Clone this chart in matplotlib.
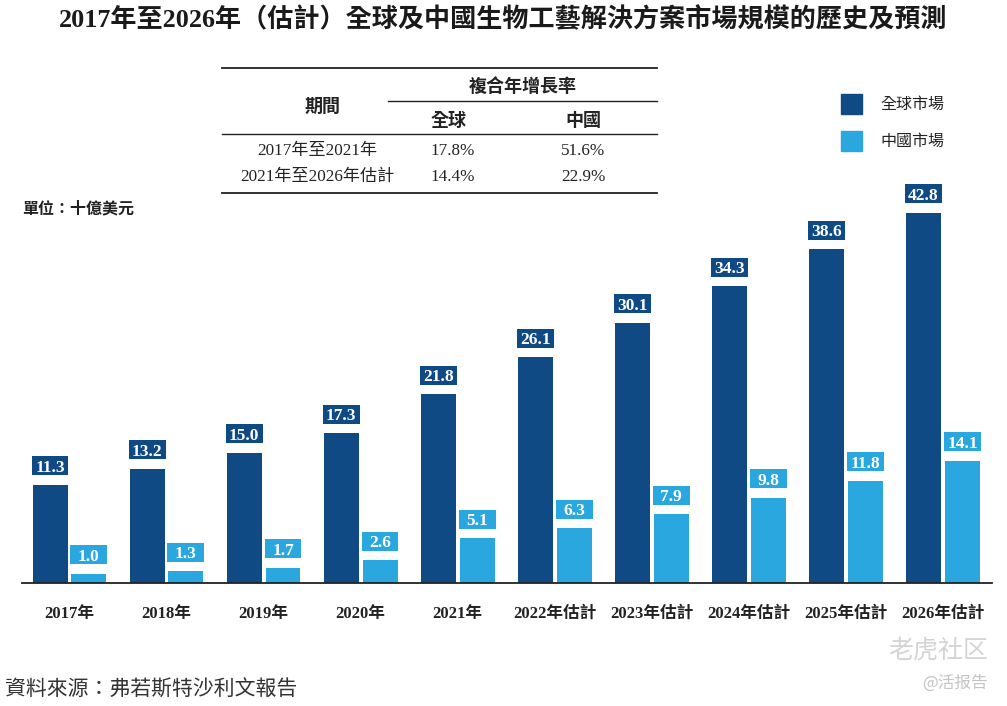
import matplotlib
matplotlib.use("Agg")
import matplotlib.pyplot as plt
import numpy as np

# === datos ===
years = ["2017年", "2018年", "2019年", "2020年", "2021年",
         "2022年估計", "2023年估計", "2024年估計", "2025年估計", "2026年估計"]
global_market = [11.3, 13.2, 15.0, 17.3, 21.8, 26.1, 30.1, 34.3, 38.6, 42.8]
china_market = [1.0, 1.3, 1.7, 2.6, 5.1, 6.3, 7.9, 9.8, 11.8, 14.1]

cagr_periods = ["2017年至2021年", "2021年至2026年估計"]
cagr_global = ["17.8%", "14.4%"]
cagr_china = ["51.6%", "22.9%"]

title = "2017年至2026年（估計）全球及中國生物工藝解決方案市場規模的歷史及預測"
legend_labels = ["全球市場", "中國市場"]
unit_text = "單位：十億美元"
source_text = "資料來源：弗若斯特沙利文報告"

DARK = "#104a84"
LIGHT = "#2aa7df"
TXT = "#222222"
SERIF = ["Liberation Serif", "Noto Sans CJK TC"]
SANS = ["Noto Sans CJK TC", "DejaVu Sans"]

# === figura ===
fig = plt.figure(figsize=(10.07, 7.06), dpi=100)
ax = fig.add_axes([22 / 1007, (706 - 582.5) / 706, 970 / 1007, 382.5 / 706])

x = np.arange(len(years))
w = 0.36
off = 0.2
ax.bar(x - off, global_market, width=w, color=DARK)
ax.bar(x + off, china_market, width=w, color=LIGHT)

ymax = 44.3
ax.set_ylim(0, ymax)
ax.set_xlim(-0.489, 9.505)

# cajas de etiquetas (alto y separacion fijos en pixeles)
px = ymax / 382.5
box_h = 19 * px
gap = 9.5 * px
for xs, vals, col in [(x - off, global_market, DARK), (x + off, china_market, LIGHT)]:
    for xi, v in zip(xs, vals):
        ax.bar(xi, box_h, bottom=v + gap, width=w + 0.02, color=col, clip_on=False)
        ax.text(xi, v + gap + box_h / 2, f"{v:.1f}", ha="center", va="center_baseline",
                color="white", fontsize=12.5, fontweight="bold", family=SERIF, clip_on=False)

for s in ["top", "left", "right"]:
    ax.spines[s].set_visible(False)
ax.spines["bottom"].set_linewidth(1.3)
ax.spines["bottom"].set_color(TXT)
ax.set_yticks([])
ax.set_xticks(x)
ax.set_xticklabels(years, fontsize=12, fontweight="bold", family=SERIF, color=TXT)
ax.tick_params(axis="x", length=0, pad=17)

# === titulo ===
fig.text(0.5, 1 - 19 / 706, title, ha="center", va="center", fontsize=18.8,
         fontweight="bold", family=SERIF, color="#1a1a1a")

# === leyenda ===
for i, (lab, col) in enumerate(zip(legend_labels, [DARK, LIGHT])):
    yc = 104 + i * 37
    fig.patches.append(plt.Rectangle((841 / 1007, 1 - (yc + 10) / 706), 21 / 1007, 20 / 706,
                                     transform=fig.transFigure, color=col))
    fig.text(880 / 1007, 1 - yc / 706, lab, ha="left", va="center", fontsize=11.5,
             family=SANS, color=TXT)

# === tabla CAGR ===
def fy(p):
    return 1 - p / 706

def fx(p):
    return p / 1007

for (x0, x1, yy, lw) in [(222, 657, 68, 1.3), (388, 657, 101, 1.0),
                         (222, 657, 134, 1.0), (222, 657, 193, 1.3)]:
    fig.add_artist(plt.Line2D([fx(x0), fx(x1)], [fy(yy), fy(yy)], color=TXT, lw=lw))

fig.text(fx(323), fy(106), "期間", ha="center", va="center", fontsize=13,
         fontweight="bold", family=SANS, color=TXT)
fig.text(fx(523), fy(87), "複合年增長率", ha="center", va="center", fontsize=13,
         fontweight="bold", family=SANS, color=TXT)
fig.text(fx(449), fy(120), "全球", ha="center", va="center", fontsize=13,
         fontweight="bold", family=SANS, color=TXT)
fig.text(fx(583), fy(120), "中國", ha="center", va="center", fontsize=13,
         fontweight="bold", family=SANS, color=TXT)
for i, per in enumerate(cagr_periods):
    yy = 151 + i * 26
    fig.text(fx(317), fy(yy), per, ha="center", va="center", fontsize=12.3,
             family=SERIF, color=TXT)
    fig.text(fx(453), fy(yy), cagr_global[i], ha="center", va="center", fontsize=12.3,
             family=SERIF, color=TXT)
    fig.text(fx(583), fy(yy), cagr_china[i], ha="center", va="center", fontsize=12.3,
             family=SERIF, color=TXT)

# === unidad y fuente ===
fig.text(fx(22), fy(208), unit_text, ha="left", va="center", fontsize=11.5,
         fontweight="bold", family=SANS, color=TXT)
fig.text(fx(5), fy(690), source_text, ha="left", va="center", fontsize=15,
         style="italic", family=SANS, color="#333333")

# === marca de agua ===
fig.text(fx(988), fy(650), "老虎社区", ha="right", va="center", fontsize=18,
         family=["Noto Sans CJK SC"], color="#d4d4d4")
fig.text(fx(988), fy(683), "@活报告", ha="right", va="center", fontsize=12,
         family=["Noto Sans CJK SC"], color="#c4c4c4")

fig.savefig("out.png", dpi=100)
